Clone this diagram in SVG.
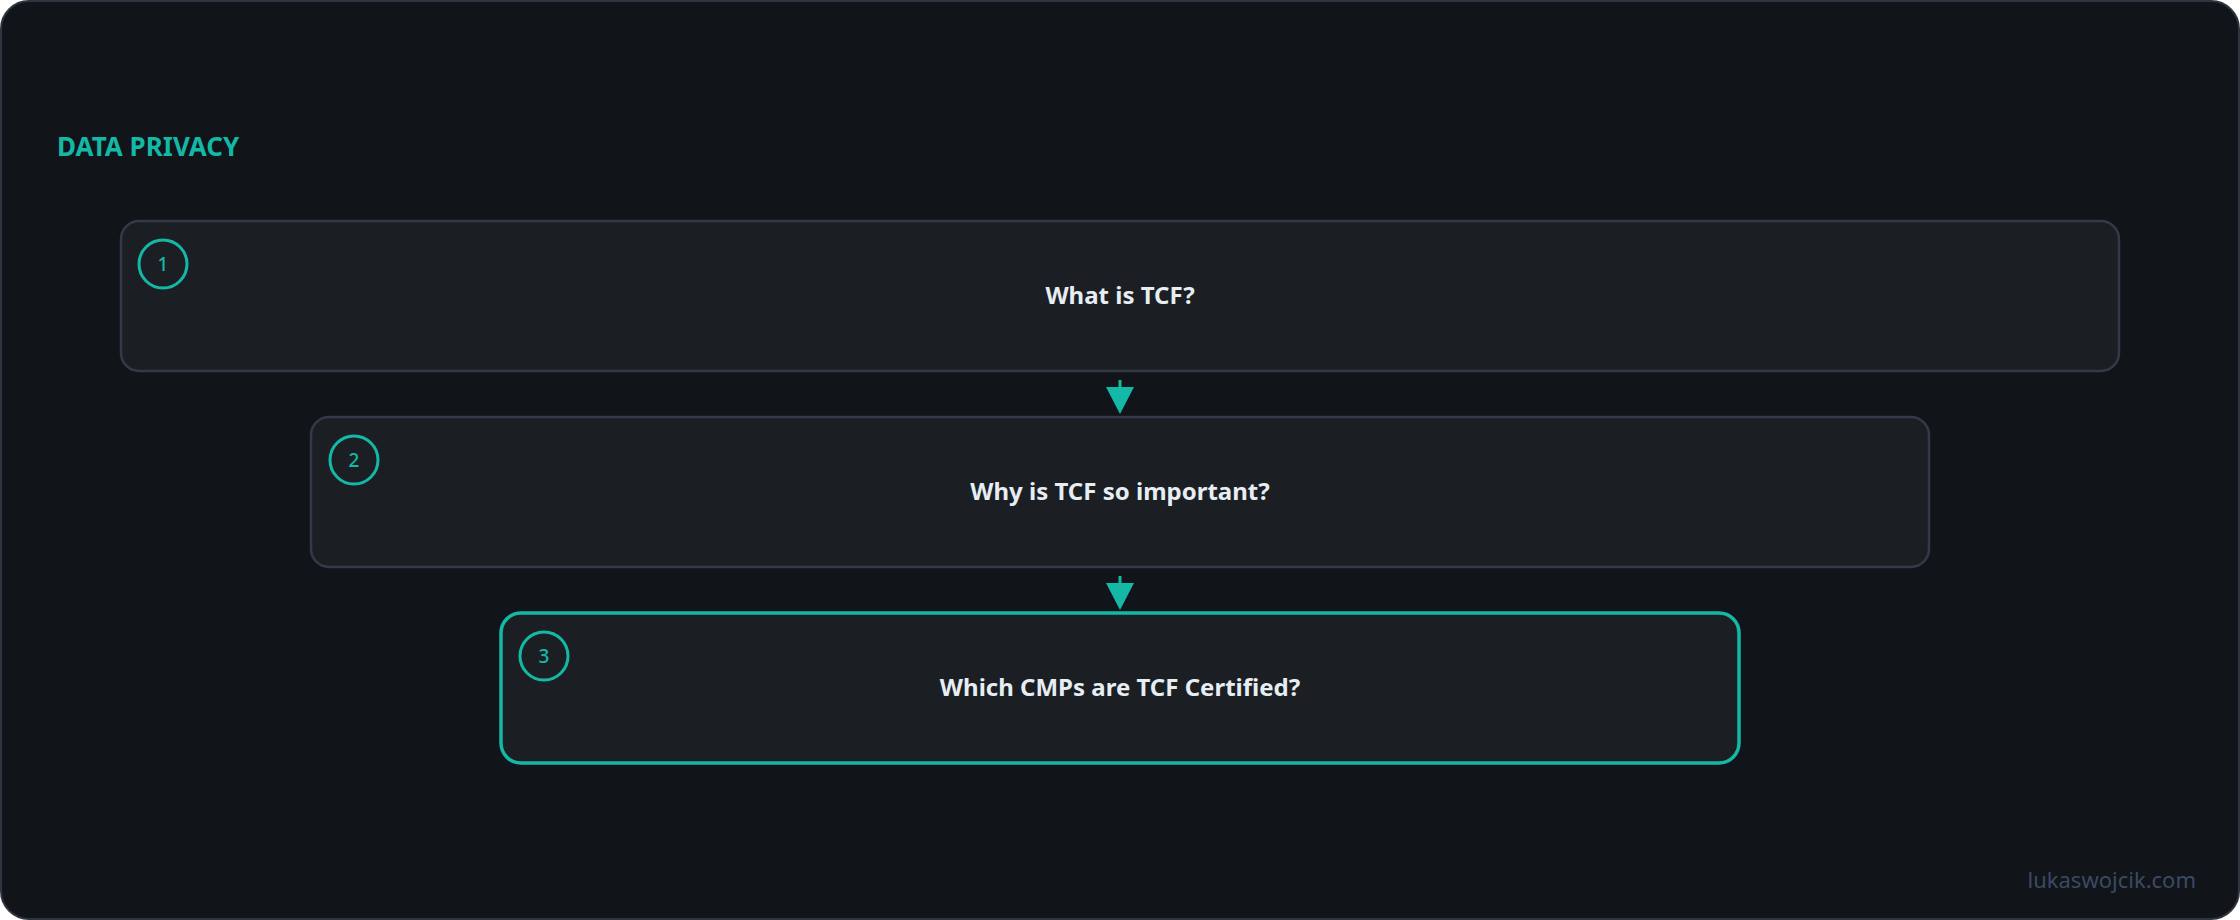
<svg xmlns="http://www.w3.org/2000/svg" width="2240" height="920" viewBox="0 0 2240 920">
  <defs>
    <style>
      .frame { fill: #111418; stroke: #2e3440; stroke-width: 2; }
      .title { font-family: "Noto Sans", "Liberation Sans", sans-serif; font-weight: 700; font-size: 26px; fill: #14b8a6; }
      .node { fill: #1b1f23; stroke: #323a4a; stroke-width: 2.5; }
      .node.active { stroke: #14b8a6; stroke-width: 3.5; }
      .badge { fill: none; stroke: #14b8a6; stroke-width: 3; }
      .num { font-family: "Noto Sans", "Liberation Sans", sans-serif; font-weight: 500; font-size: 19px; fill: #14b8a6; text-anchor: middle; }
      .label { font-family: "Noto Sans", "Liberation Sans", sans-serif; font-weight: 700; font-size: 24px; fill: #e6edf3; text-anchor: middle; }
      .conn { stroke: #14b8a6; stroke-width: 3; fill: none; }
      .mark { font-family: "Noto Sans", "Liberation Sans", sans-serif; font-size: 22px; fill: #3b4a63; text-anchor: end; }
    </style>
    <marker id="arrow" markerUnits="userSpaceOnUse" viewBox="0 0 27 28" markerWidth="27" markerHeight="28" refX="0" refY="14" orient="auto">
      <path d="M0,0 L27,14 L0,28 Z" fill="#14b8a6"/>
    </marker>
  </defs>

  <rect class="frame" x="1" y="1" width="2238" height="918" rx="28"/>

  <text class="title" x="57" y="156">DATA PRIVACY</text>

  <g id="connectors">
    <line class="conn" x1="1120" y1="380" x2="1120" y2="387" marker-end="url(#arrow)"/>
    <line class="conn" x1="1120" y1="576" x2="1120" y2="583" marker-end="url(#arrow)"/>
  </g>

  <g id="node1">
    <rect class="node" x="121" y="221" width="1998" height="150" rx="18"/>
    <circle class="badge" cx="163" cy="264" r="24"/>
    <text class="num" x="163" y="270.5">1</text>
    <text class="label" x="1120" y="304">What is TCF?</text>
  </g>

  <g id="node2">
    <rect class="node" x="311" y="417" width="1618" height="150" rx="18"/>
    <circle class="badge" cx="354" cy="460" r="24"/>
    <text class="num" x="354" y="466.5">2</text>
    <text class="label" x="1120" y="500">Why is TCF so important?</text>
  </g>

  <g id="node3">
    <rect class="node active" x="501" y="613" width="1238" height="150" rx="20"/>
    <circle class="badge" cx="544" cy="656" r="24"/>
    <text class="num" x="544" y="662.5">3</text>
    <text class="label" x="1120" y="696">Which CMPs are TCF Certified?</text>
  </g>

  <text class="mark" x="2196" y="888">lukaswojcik.com</text>
</svg>
